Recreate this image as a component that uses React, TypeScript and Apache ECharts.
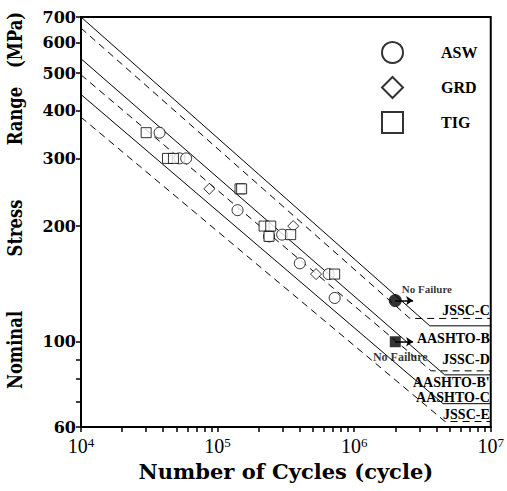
import React, { useEffect, useRef } from "react";
import * as echarts from "echarts";

// Design S-N lines: stress at 1e4 cycles, knee point, constant-amplitude limit
const lineNames = ["AASHTO-B", "JSSC-C", "AASHTO-B'", "JSSC-D", "AASHTO-C", "JSSC-E"];
const lineStartStress = [700, 655, 545, 495, 440, 384];
const lineKneeCycles = [3.58e6, 2.56e6, 4.6e6, 3.66e6, 4.48e6, 4.63e6];
const lineCutoffStress = [110, 115, 82, 84, 69, 62];

// Test results (cycles, MPa)
const aswCycles = [3.76e4, 5.26e4, 5.89e4, 1.4e5, 2.38e5, 2.97e5, 4.0e5, 6.5e5, 7.2e5];
const aswStress = [350, 300, 300, 220, 188, 190, 160, 150, 130];
const grdCycles = [8.7e4, 3.58e5, 5.26e5];
const grdStress = [250, 200, 150];
const tigCycles = [3.0e4, 4.3e4, 4.75e4, 1.46e5, 1.5e5, 2.19e5, 2.45e5, 2.38e5, 3.43e5, 7.2e5];
const tigStress = [350, 300, 300, 250, 250, 200, 200, 188, 190, 150];

// Run-outs (no failure)
const runoutCircle = [2e6, 128];
const runoutSquare = [2e6, 100];
const runoutArrowEnd = 2.7e6;

// Axis ticks and labels
const yLabelValues = [60, 100, 200, 300, 400, 500, 600, 700];
const yTickValues = [60, 70, 80, 90, 100, 200, 300, 400, 500, 600, 700];
const xDecades = [4, 5, 6];
const xTickValues: number[] = [];
xDecades.forEach((d) => {
  for (let m = 1; m <= 9; m++) xTickValues.push(m * Math.pow(10, d));
});
xTickValues.push(1e7);
const xLabelValues = [1e4, 1e5, 1e6, 1e7];

const yTitleWords = ["Nominal", "Stress", "Range", "(MPa)"];

const TITLE_FONT = '"DejaVu Serif", serif';
const TEXT_FONT = '"Liberation Serif", "Times New Roman", serif';

// label offsets (px) relative to each line's cutoff level
const lineLabelDy = [13, -8, 8, -11, -6, -7];
// y-title word centres (px)
const yTitleCenters = [350, 228, 116, 40];

const zip = (a: number[], b: number[]) => a.map((v, i) => [v, b[i]]);

export default function App() {
  const ref = useRef<HTMLDivElement>(null);

  useEffect(() => {
    if (!ref.current) return;
    const chart = echarts.init(ref.current, undefined, { renderer: "svg" });

    const hollow = { color: "#fff", borderColor: "#000", borderWidth: 1 };

    const lineSeries = lineNames.map((name, i) => ({
      name,
      type: "line",
      silent: true,
      symbol: "none",
      z: 2,
      data: [
        [1e4, lineStartStress[i]],
        [lineKneeCycles[i], lineCutoffStress[i]],
        [1e7, lineCutoffStress[i]],
      ],
      lineStyle: {
        color: "#000",
        width: 1,
        type: name.startsWith("JSSC") ? [7, 5] : "solid",
      },
      markPoint: {
        silent: true,
        symbol: "circle",
        symbolSize: 0,
        data: [{ coord: [1e7, lineCutoffStress[i]] }],
        label: {
          show: true,
          position: "left",
          distance: 1,
          offset: [0, lineLabelDy[i]],
          formatter: name,
          fontFamily: TEXT_FONT,
          fontWeight: "bold",
          fontSize: 14,
          lineHeight: 13,
          color: "#000",
        },
      },
    }));

    const arrowMark = (pt: number[]) => ({
      silent: true,
      symbol: ["none", "arrow"],
      symbolSize: 7,
      label: { show: false },
      lineStyle: { color: "#000", width: 1.5, type: "solid" },
      data: [[{ coord: pt }, { coord: [runoutArrowEnd, pt[1]] }]],
    });

    const option: any = {
      animation: false,
      backgroundColor: "#fff",
      grid: {
        left: 81,
        top: 17,
        right: 14,
        bottom: 64,
        show: true,
        borderColor: "#000",
        borderWidth: 2,
        backgroundColor: "transparent",
      },
      legend: {
        data: ["ASW", "GRD", "TIG"],
        orient: "vertical",
        left: 376,
        top: 36,
        itemWidth: 21,
        itemHeight: 21,
        itemGap: 12,
        selectedMode: false,
        textStyle: {
          fontFamily: TEXT_FONT,
          fontWeight: "bold",
          fontSize: 16,
          color: "#000",
          padding: [0, 0, 0, 33],
        },
      },
      xAxis: {
        type: "log",
        logBase: 10,
        min: 1e4,
        max: 1e7,
        name: "Number of Cycles (cycle)",
        nameLocation: "middle",
        nameGap: 32,
        nameTextStyle: {
          fontFamily: TITLE_FONT,
          fontWeight: "bold",
          fontSize: 21,
          color: "#000",
        },
        axisLine: { show: true, lineStyle: { color: "#000", width: 2 } },
        axisTick: {
          show: true,
          inside: false,
          length: 5,
          customValues: xTickValues,
          lineStyle: { color: "#000", width: 1.5 },
        },
        minorTick: { show: false },
        splitLine: { show: false },
        axisLabel: {
          customValues: xLabelValues,
          margin: 9,
          color: "#000",
          formatter: (v: number) => `{b|10}{s|${Math.round(Math.log10(v))}}`,
          rich: {
            b: { fontFamily: TEXT_FONT, fontSize: 20, color: "#000" },
            s: { fontFamily: TEXT_FONT, fontSize: 13, color: "#000", verticalAlign: "top" },
          },
        },
      },
      yAxis: {
        type: "log",
        logBase: 10,
        min: 60,
        max: 700,
        axisLine: { show: true, lineStyle: { color: "#000", width: 2 } },
        axisTick: {
          show: true,
          inside: false,
          length: 5,
          customValues: yTickValues,
          lineStyle: { color: "#000", width: 1.5 },
        },
        minorTick: { show: false },
        splitLine: { show: false },
        axisLabel: {
          customValues: yLabelValues,
          margin: 5,
          color: "#000",
          fontFamily: TITLE_FONT,
          fontWeight: "bold",
          fontSize: 16,
        },
      },
      graphic: yTitleWords.map((w, i) => ({
        type: "text",
        x: 15,
        y: yTitleCenters[i],
        rotation: Math.PI / 2,
        scaleX: 0.82,
        silent: true,
        style: {
          text: w,
          font: `bold 20px ${TITLE_FONT}`,
          fill: "#000",
          align: "center",
          verticalAlign: "middle",
        },
      })),
      series: [
        ...lineSeries,
        {
          name: "ASW",
          type: "scatter",
          symbol: "circle",
          symbolSize: 11,
          z: 3,
          itemStyle: hollow,
          data: zip(aswCycles, aswStress),
        },
        {
          name: "GRD",
          type: "scatter",
          symbol: "diamond",
          symbolSize: 11,
          z: 3,
          itemStyle: hollow,
          data: zip(grdCycles, grdStress),
        },
        {
          name: "TIG",
          type: "scatter",
          symbol: "rect",
          symbolSize: 10,
          z: 3,
          itemStyle: hollow,
          data: zip(tigCycles, tigStress),
        },
        {
          name: "runout-asw",
          type: "scatter",
          symbol: "circle",
          symbolSize: 13,
          z: 4,
          itemStyle: { color: "#000" },
          label: {
            show: true,
            position: "right",
            distance: 0,
            offset: [0, -12],
            formatter: "No Failure",
            fontFamily: TEXT_FONT,
            fontWeight: "bold",
            fontSize: 11,
            color: "#000",
          },
          data: [runoutCircle],
          markLine: arrowMark(runoutCircle),
        },
        {
          name: "runout-tig",
          type: "scatter",
          symbol: "rect",
          symbolSize: 11,
          z: 4,
          itemStyle: { color: "#000" },
          label: {
            show: true,
            position: "bottom",
            distance: 4,
            offset: [5, 0],
            formatter: "No Failure",
            fontFamily: TEXT_FONT,
            fontWeight: "bold",
            fontSize: 12,
            color: "#000",
          },
          data: [runoutSquare],
          markLine: arrowMark(runoutSquare),
        },
      ],
    };

    chart.setOption(option);
    return () => chart.dispose();
  }, []);

  return (
    <div
      ref={ref}
      style={{ position: "fixed", left: 0, top: 0, width: 507, height: 491, background: "#fff" }}
    />
  );
}
